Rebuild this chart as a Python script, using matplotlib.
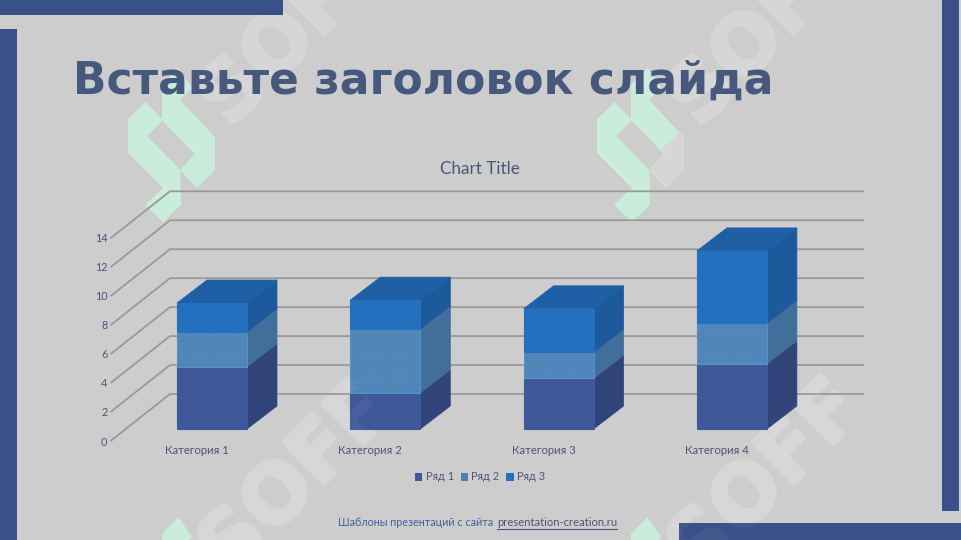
import numpy as np
import matplotlib
matplotlib.use('Agg')
import matplotlib.pyplot as plt
import matplotlib.patheffects as pe
from matplotlib.patches import Polygon, Rectangle, Patch

categories = ['Категория 1', 'Категория 2', 'Категория 3', 'Категория 4']
series_names = ['Ряд 1', 'Ряд 2', 'Ряд 3']
ryad1 = [4.3, 2.5, 3.5, 4.5]
ryad2 = [2.4, 4.4, 1.8, 2.8]
ryad3 = [2.0, 2.0, 3.0, 5.0]
ticks = [0, 2, 4, 6, 8, 10, 12, 14]

BG = '#cdcdcd'
FRAME = '#3a5088'
TEXT = '#4a5674'
MINT = '#c9ecdb'
front_colors = ['#3f5899', '#4a80b3', '#2370bf']
side_colors = ['#30447a', '#3f6f9a', '#1d5a9c']
top_color = '#1f5fa5'

fig = plt.figure(figsize=(9.61, 5.4), dpi=100, facecolor=BG)

# slide background, pixel coordinates
bg = fig.add_axes([0, 0, 1, 1])
bg.set_xlim(0, 961)
bg.set_ylim(540, 0)
bg.axis('off')

for x, y, w, h in [(0, 0, 283, 15), (0, 29, 17, 511), (942, 0, 17, 511), (679, 523, 282, 17)]:
    bg.add_patch(Rectangle((x, y), w, h, fc=FRAME, ec='none', zorder=5))

# watermark
for dx in [0, 469]:
    for dy in [0, -449]:
        bg.text(298 + dx, 479 + dy, 'SOFF', rotation=45, rotation_mode='anchor',
                ha='center', va='center', fontsize=58, fontweight='bold',
                family='DejaVu Sans', color='#d6d6d6', zorder=1, clip_on=True,
                path_effects=[pe.withStroke(linewidth=2.5, foreground='#d6d6d6')])

# logo
logo_left = np.array([(145.5, 102), (128, 119), (128, 153), (163, 188), (145, 205), (163, 222),
                      (181, 205), (180.5, 170), (147, 136), (162, 121), (162, 119)])
logo_right = np.array([(178.5, 68), (162, 85), (162, 120), (195, 154), (180, 170), (197, 188),
                       (215, 170), (215, 137), (180, 100), (192, 88)])
for dx in [0, 469]:
    for dy in [0, 449]:
        bg.add_patch(Polygon(logo_left + (dx, dy), fc=MINT, ec='none', zorder=2))
        bg.add_patch(Polygon(logo_right + (dx, dy), fc=MINT, ec='none', zorder=2))
# lighter piece of the second logo
bg.add_patch(Polygon([(679, 133), (662, 148), (665, 154), (650, 170), (667, 188),
                      (684, 170), (684, 135)], fc='#d6d6d6', ec='none', zorder=3))

bg.text(423, 81, 'Вставьте заголовок слайда', ha='center', va='center', fontsize=31.7,
        fontweight='bold', family='DejaVu Sans', color='#46597c', zorder=6)
bg.text(480, 169, 'Chart Title', ha='center', va='center', fontsize=12.3, family='Lato', color=TEXT)

# chart axes: x in categories, y in series units
step_x = 173.3
unit_y = 14.48
ax = fig.add_axes([0, 0, 1, 1], facecolor='none')
ax.set_xlim(-177 / step_x, (961 - 177) / step_x)
ax.set_ylim(-111 / unit_y, 429 / unit_y)
ax.axis('off')

back_x = -7 / step_x
front_x = -66.5 / step_x
end_x = (864 - 177) / step_x
back_dy = 35 / unit_y
front_dy = -12 / unit_y
for t in ticks:
    ax.plot([front_x, back_x, end_x], [t + front_dy, t + back_dy, t + back_dy],
            color='#999999', lw=1.3, zorder=2, solid_joinstyle='round', solid_capstyle='butt')
    ax.text(front_x - 3 / step_x, t + front_dy + 0.5 / unit_y * (t / 14 - 1) * 2, str(t),
            ha='right', va='center', fontsize=7.8, family='Lato', color=TEXT)

bar_w = 70 / step_x
depth_x = 30 / step_x
depth_y = 23 / unit_y
x = np.arange(len(categories))
bottom = np.zeros(len(categories))
for k, vals in enumerate([ryad1, ryad2, ryad3]):
    vals = np.array(vals)
    hatch = '.......' if k == 1 else None
    ec = '#5a92c4' if k == 1 else front_colors[k]
    ax.bar(x, vals, bar_w, bottom=bottom, align='edge', color=front_colors[k],
           edgecolor=ec, linewidth=0.8, hatch=hatch, zorder=4)
    for i in x:
        r = i + bar_w
        ax.add_patch(Polygon([(r, bottom[i]), (r + depth_x, bottom[i] + depth_y),
                              (r + depth_x, bottom[i] + vals[i] + depth_y),
                              (r, bottom[i] + vals[i])],
                             fc=side_colors[k], ec=side_colors[k], lw=0.5, zorder=3))
    bottom = bottom + vals

for i in x:
    ax.add_patch(Polygon([(i, bottom[i]), (i + bar_w, bottom[i]),
                          (i + bar_w + depth_x, bottom[i] + depth_y),
                          (i + depth_x, bottom[i] + depth_y)],
                         fc=top_color, ec=top_color, lw=0.5, zorder=3))
    ax.text(i + 20 / step_x, -21 / unit_y, categories[i],
            ha='center', va='center', fontsize=8.1, family='Lato', color=TEXT)

handles = [Patch(fc=front_colors[k], ec='none', label=series_names[k]) for k in range(3)]
ax.legend(handles=handles, ncol=3, frameon=False, loc='center',
          bbox_to_anchor=(480 / 961, 1 - 477 / 540), bbox_transform=fig.transFigure,
          handlelength=0.7, handleheight=0.7, handletextpad=0.3, columnspacing=0.6,
          prop={'family': 'Lato', 'size': 7.9}, labelcolor=TEXT)

# faint watermark over the bars
for dx in [0, 469]:
    ax.text(298 + dx, 479, 'SOFF', transform=bg.transData, rotation=45, rotation_mode='anchor',
            ha='center', va='center', fontsize=58, fontweight='bold',
            family='DejaVu Sans', color='white', alpha=0.05, zorder=7)

# footer
ax.text(338, 523, 'Шаблоны презентаций с сайта', transform=bg.transData, ha='left', va='center',
        fontsize=7.75, family='Lato', color='#3f6596')
ax.text(497, 523, 'presentation-creation.ru', transform=bg.transData, ha='left', va='center',
        fontsize=8.1, family='Lato', color='#4a5674')
bg.plot([497, 617], [528.5, 528.5], color='#4a5674', lw=0.8, zorder=6)

fig.savefig('out.png', dpi=100, facecolor=BG)
